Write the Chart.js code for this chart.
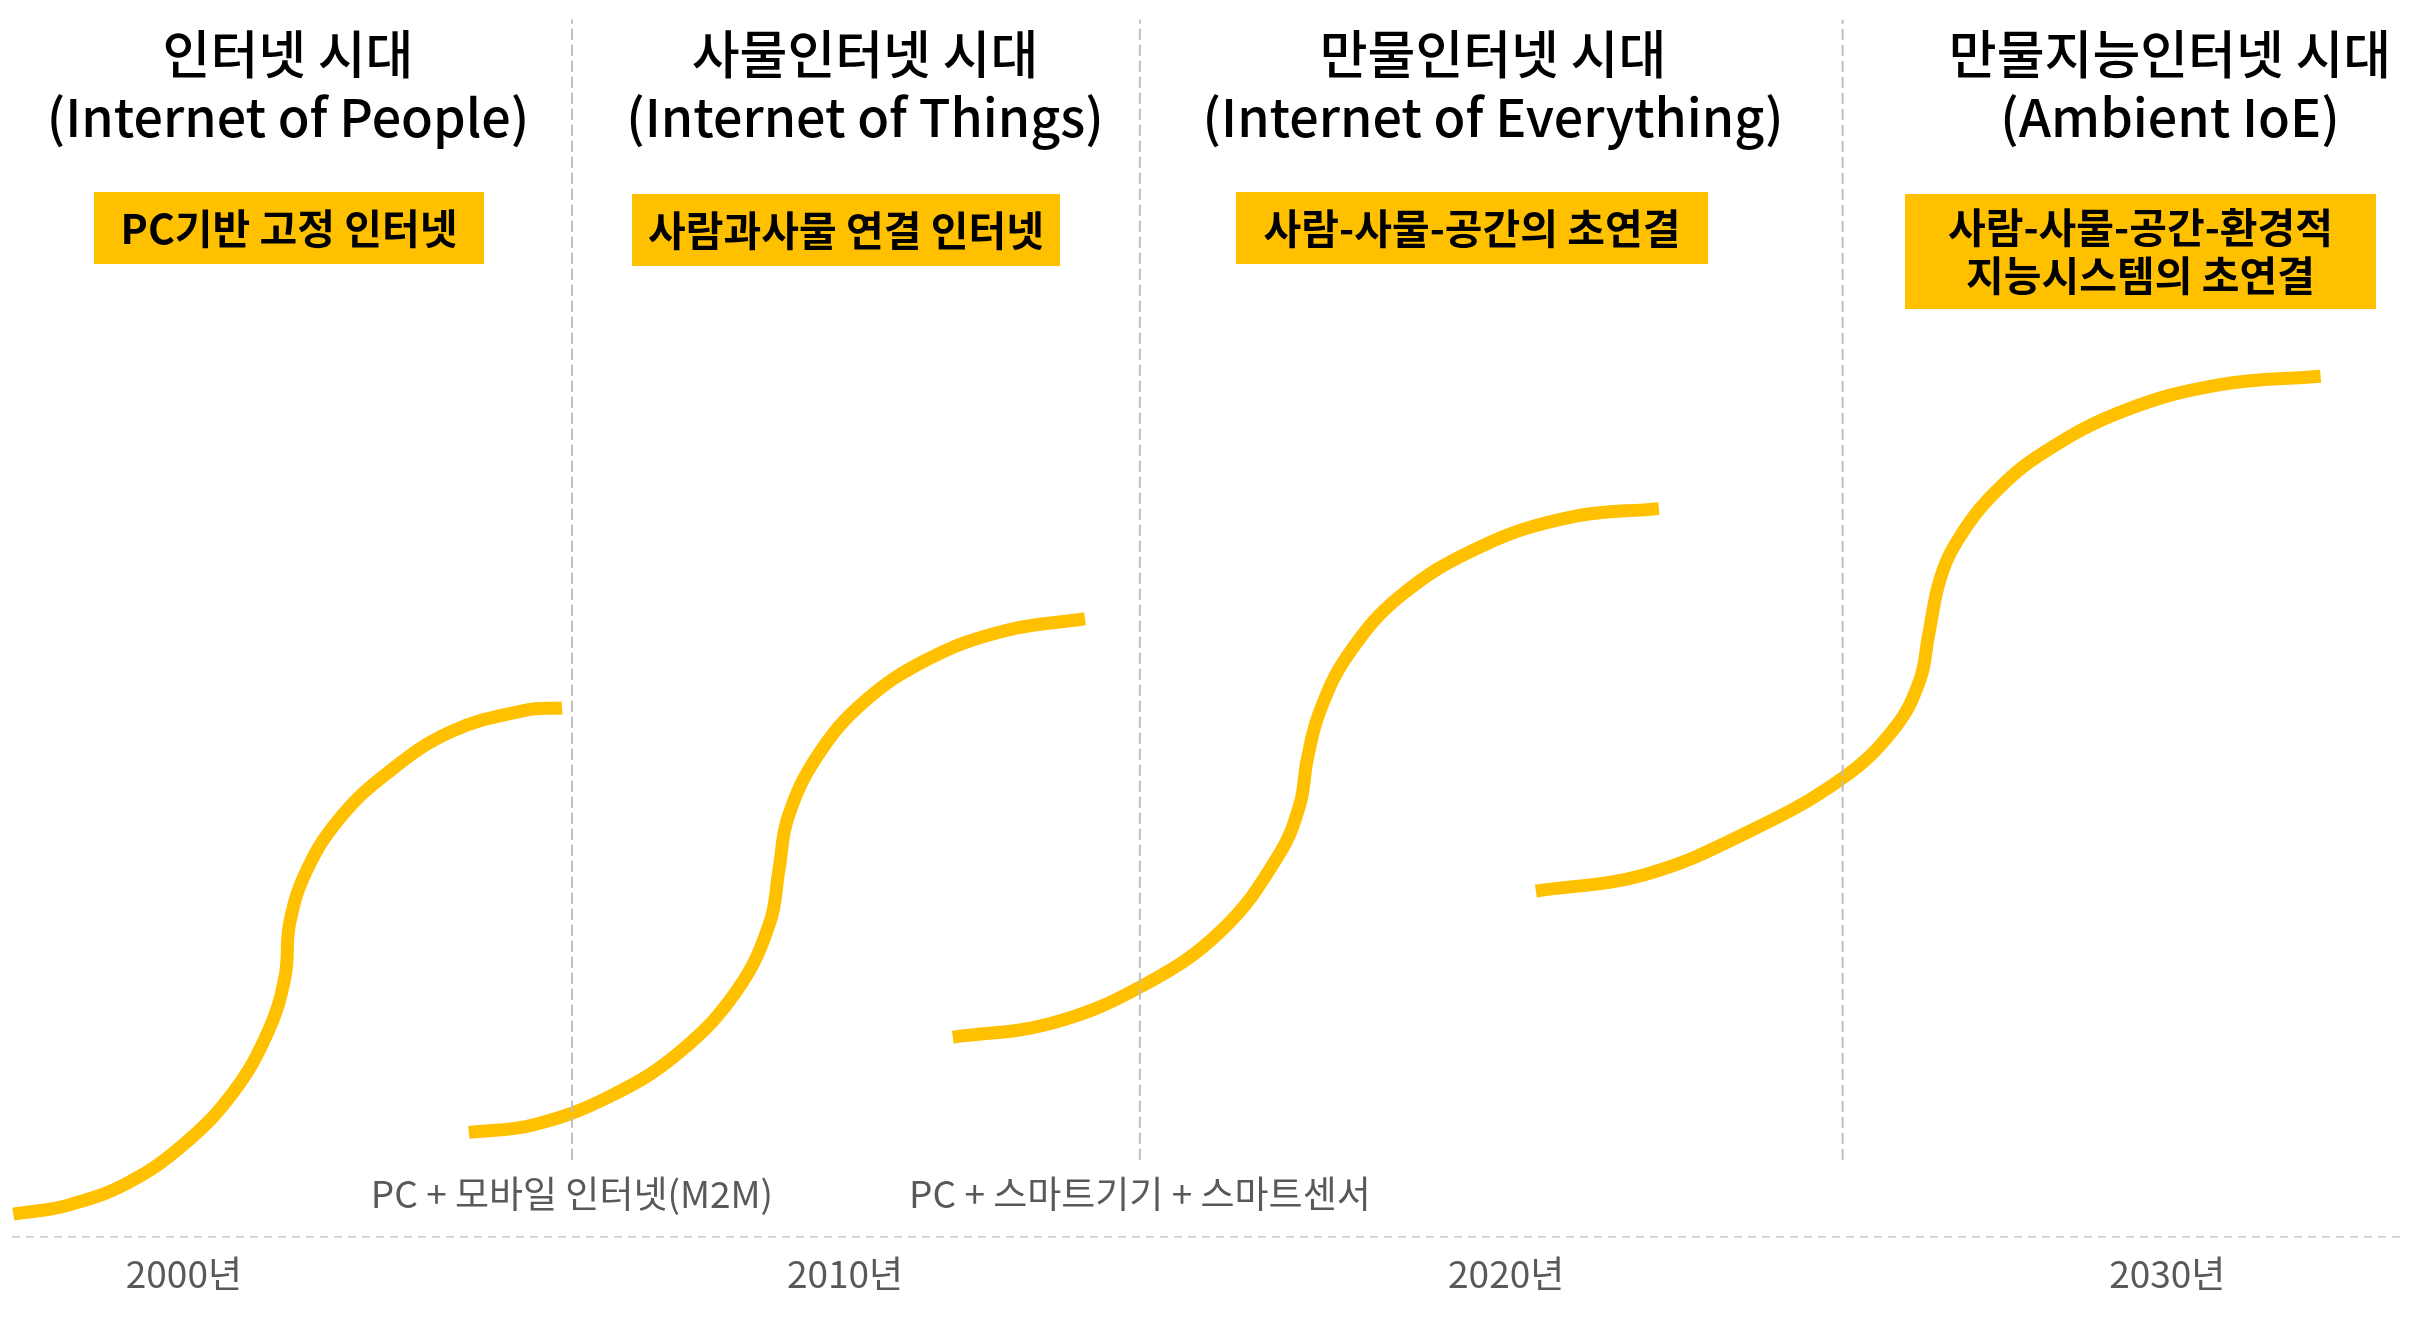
<!DOCTYPE html>
<html>
<head>
    <meta charset="utf-8">
    <title>인터넷 시대 변화</title>
    <script src="https://cdn.jsdelivr.net/npm/chart.js@4.4.0/dist/chart.umd.min.js"></script>
    <style>
        body { margin: 0; background: #fff; }
        .chart-wrap { position: relative; width: 2410px; height: 1324px; }
    </style>
</head>
<body>
    <div class="chart-wrap">
        <canvas id="eraChart"></canvas>
    </div>
    <script>
        // x axis
        const yearRange = [1997.40, 2033.52];
        const tickYears = [2000, 2010, 2020, 2030];
        const tickLabels = ['2000년', '2010년', '2020년', '2030년'];

        // S-curves (year, level 0-100)
        const iopYears = [1997.42, 1998.23, 1999.14, 1999.99, 2000.74, 2001.27, 2001.53, 2001.60, 2001.86, 2002.36, 2003.09, 2004.05, 2005.16, 2005.72];
        const iopLevel = [1.9, 2.6, 4.4, 7.5, 11.7, 16.6, 21.1, 25.4, 29.7, 33.9, 37.6, 40.9, 42.6, 42.8];

        const iotYears = [2004.31, 2005.28, 2006.44, 2007.50, 2008.37, 2008.86, 2009.00, 2009.14, 2009.58, 2010.27, 2011.24, 2012.39, 2013.63];
        const iotLevel = [8.5, 9.1, 11.4, 15.0, 20.0, 25.4, 29.7, 34.0, 38.9, 43.2, 46.7, 49.0, 50.0];

        const ioeYears = [2011.63, 2013.11, 2014.48, 2015.69, 2016.56, 2016.88, 2016.99, 2017.18, 2017.61, 2018.39, 2019.60, 2020.96, 2022.31];
        const ioeLevel = [16.2, 17.3, 20.3, 24.8, 30.9, 35.0, 38.6, 42.5, 47.1, 51.8, 55.8, 58.2, 58.9];

        const ambientYears = [2020.45, 2022.08, 2023.63, 2025.08, 2025.88, 2026.26, 2026.39, 2026.57, 2026.86, 2027.39, 2028.12, 2029.34, 2030.78, 2032.32];
        const ambientLevel = [28.0, 29.3, 32.7, 37.1, 41.2, 45.1, 48.7, 53.3, 56.6, 60.2, 63.4, 66.8, 68.9, 69.6];

        // era boundaries and the transition written under each
        const dividerYears = [2005.87, 2014.46, 2025.09];
        const dividerSpan = [6.3, 98.4];
        const transitionLabels = ['PC + 모바일 인터넷(M2M)', 'PC + 스마트기기 + 스마트센서', ''];

        // era headings
        const eraTitles = ['인터넷 시대', '사물인터넷 시대', '만물인터넷 시대', '만물지능인터넷 시대'];
        const eraSubtitles = ['(Internet of People)', '(Internet of Things)', '(Internet of Everything)', '(Ambient IoE)'];
        const eraKeywords = [
            ['PC기반 고정 인터넷'],
            ['사람과사물 연결 인터넷'],
            ['사람-사물-공간의 초연결'],
            ['사람-사물-공간-환경적', '지능시스템의 초연결']
        ];

        // layout (pixels)
        const FONT = '"Noto Sans CJK KR", "Noto Sans", sans-serif';
        const YELLOW = '#FFC000';
        const GREY_LINE = '#BFBFBF';
        const titleX = [288, 865, 1493, 2170];
        const boxes = [[94, 192, 390, 72], [632, 194, 428, 72], [1236, 192, 472, 72], [1905, 194, 471, 115]];
        const transitionLevel = 3.5;

        const toPoints = (xs, ys) => xs.map((x, i) => ({ x: x, y: ys[i] }));

        const curveStyle = {
            borderColor: YELLOW,
            borderWidth: 13,
            pointRadius: 0,
            fill: false,
            tension: 0.4,
            order: 2
        };

        // dashed guides: era dividers and the baseline
        const dividerSets = dividerYears.map(y => ({
            data: [{ x: y, y: dividerSpan[0] }, { x: y, y: dividerSpan[1] }],
            borderColor: GREY_LINE,
            borderWidth: 2,
            borderDash: [11, 5],
            pointRadius: 0,
            fill: false,
            order: 1
        }));
        const baselineSet = {
            data: [{ x: yearRange[0], y: 0 }, { x: yearRange[1], y: 0 }],
            borderColor: GREY_LINE,
            borderWidth: 2.5,
            borderDash: [8, 6],
            pointRadius: 0,
            fill: false,
            order: 1
        };

        const eraLabels = {
            id: 'eraLabels',
            afterDatasetsDraw(chart) {
                const ctx = chart.ctx;
                const xs = chart.scales.x, ys = chart.scales.y;
                ctx.save();
                ctx.textAlign = 'center';
                ctx.textBaseline = 'middle';

                eraTitles.forEach((t, i) => {
                    ctx.fillStyle = '#000';
                    ctx.font = '500 52px ' + FONT;
                    ctx.fillText(t, titleX[i], 54);
                    ctx.fillText(eraSubtitles[i], titleX[i], 117);

                    const [bx, by, bw, bh] = boxes[i];
                    ctx.fillStyle = YELLOW;
                    ctx.fillRect(bx, by, bw, bh);
                    ctx.fillStyle = '#000';
                    ctx.font = 'bold 41px ' + FONT;
                    const lines = eraKeywords[i];
                    const lh = 48;
                    const cy = by + bh / 2 - (lines.length - 1) * lh / 2;
                    lines.forEach((l, j) => ctx.fillText(l, bx + bw / 2, cy + j * lh));
                });

                ctx.fillStyle = '#595959';
                ctx.font = '37px ' + FONT;
                transitionLabels.forEach((t, i) => {
                    if (!t) return;
                    ctx.fillText(t, xs.getPixelForValue(dividerYears[i]), ys.getPixelForValue(transitionLevel));
                });
                ctx.restore();
            }
        };

        new Chart(document.getElementById('eraChart'), {
            type: 'line',
            data: {
                datasets: [
                    ...dividerSets,
                    baselineSet,
                    { ...curveStyle, data: toPoints(iopYears, iopLevel) },
                    { ...curveStyle, data: toPoints(iotYears, iotLevel) },
                    { ...curveStyle, data: toPoints(ioeYears, ioeLevel) },
                    { ...curveStyle, data: toPoints(ambientYears, ambientLevel) }
                ]
            },
            options: {
                responsive: true,
                maintainAspectRatio: false,
                animation: false,
                layout: { padding: { top: 0, left: 12, right: 10, bottom: 14 } },
                plugins: {
                    legend: { display: false },
                    tooltip: { enabled: false }
                },
                scales: {
                    x: {
                        type: 'linear',
                        min: yearRange[0],
                        max: yearRange[1],
                        afterBuildTicks: scale => {
                            scale.ticks = tickYears.map(v => ({ value: v }));
                        },
                        grid: { display: false, drawTicks: false },
                        border: { display: false },
                        ticks: {
                            padding: 14,
                            maxRotation: 0,
                            autoSkip: false,
                            color: '#595959',
                            font: { size: 37, family: FONT },
                            callback: v => tickLabels[tickYears.indexOf(v)]
                        }
                    },
                    y: {
                        display: false,
                        min: 0,
                        max: 100
                    }
                }
            },
            plugins: [eraLabels]
        });
    </script>
</body>
</html>
